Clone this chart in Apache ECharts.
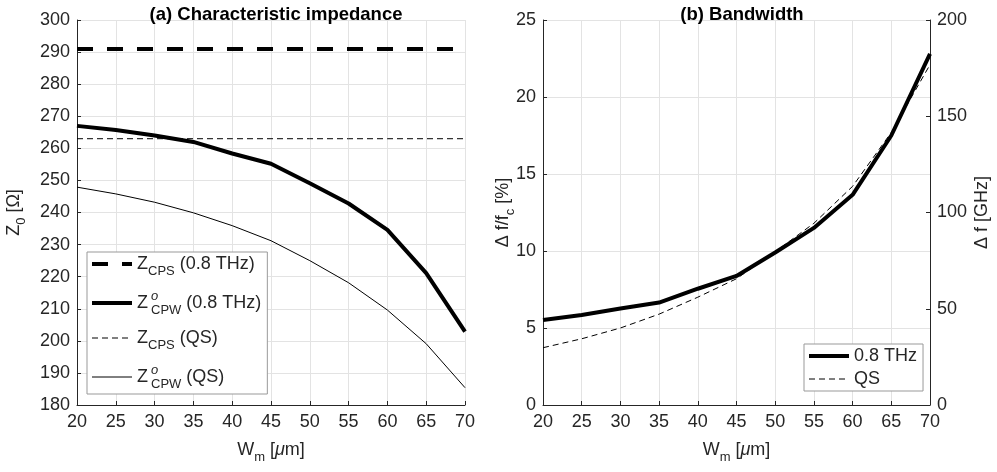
<!DOCTYPE html>
<html>
<head>
<meta charset="utf-8">
<script src="https://cdn.jsdelivr.net/npm/echarts@6/dist/echarts.min.js"></script>
<style>
  html, body { margin: 0; padding: 0; background: #fff; }
  #chart { width: 997px; height: 472px; }
</style>
</head>
<body>
<div id="chart"></div>
<script>
// W_m values (um)
const wm = [20, 25, 30, 35, 40, 45, 50, 55, 60, 65, 70];

// (a) characteristic impedance [ohm]
const zCps08 = [291, 291, 291, 291, 291, 291, 291, 291, 291, 291, 291];
const zCpw08 = [267, 265.7, 264, 262, 258.4, 255.2, 249.1, 242.8, 234.6, 221.1, 202.9];
const zCpsQs = [263, 263, 263, 263, 263, 263, 263, 263, 263, 263, 263];
const zCpwQs = [247.9, 245.8, 243.2, 239.9, 235.9, 231.2, 225, 218.1, 209.6, 199.1, 185.4];

// (b) bandwidth [%]
const bw08 = [5.52, 5.85, 6.27, 6.65, 7.55, 8.38, 9.9, 11.5, 13.65, 17.5, 22.8];
const bwQs = [3.72, 4.3, 5.0, 5.9, 7.0, 8.2, 9.95, 11.8, 14.2, 17.7, 22.1];

const xTicks = {min: 20, max: 70, interval: 5};
const leftTicks = {min: 180, max: 300, interval: 10};
const pctTicks = {min: 0, max: 25, interval: 5};
const ghzTicks = {min: 0, max: 200, interval: 50};

const pair = (ys) => ys.map((y, i) => [wm[i], y]);

const ink = '#262626';
const gridGray = '#e3e3e3';
const font = 'Liberation Sans, Arial, sans-serif';

// 富文本：下标 / 上标
function makeRich(lh) {
  return {
    n: {fontSize: 18, lineHeight: lh, fontFamily: font, color: ink, verticalAlign: 'middle'},
    s: {fontSize: 13, fontFamily: font, color: ink, verticalAlign: 'bottom', padding: [0, 0, 1, 0]},
    u: {fontSize: 13, fontFamily: font, color: ink, verticalAlign: 'top', width: 0, fontStyle: 'italic', padding: [2, 0, 0, 3]},
    i: {fontSize: 18, fontFamily: font, color: ink, fontStyle: 'italic', verticalAlign: 'middle'}
  };
}
const rich = makeRich(30);
const richSmall = makeRich(22);

const legendNames = {
  'cps08': '{n|Z}{s|CPS}{n| (0.8 THz)}',
  'cpw08': '{n|Z}{u|o}{s|CPW}{n| (0.8 THz)}',
  'cpsqs': '{n|Z}{s|CPS}{n| (QS)}',
  'cpwqs': '{n|Z}{u|o}{s|CPW}{n| (QS)}',
  'b08': '{n|0.8 THz}',
  'bqs': '{n|QS}'
};

function xAxis(gridIndex) {
  return {
    type: 'value', gridIndex: gridIndex,
    min: xTicks.min, max: xTicks.max, interval: xTicks.interval,
    name: '{n|W}{s|m}{n| [}{i|μ}{n|m]}',
    nameLocation: 'middle', nameGap: 30,
    nameTextStyle: {rich: rich},
    axisLine: {lineStyle: {color: ink, width: 1}},
    axisTick: {inside: true, length: 4, lineStyle: {color: ink}},
    axisLabel: {color: ink, fontSize: 18, fontFamily: font, margin: 8},
    splitLine: {show: true, lineStyle: {color: gridGray, width: 1}}
  };
}

function yAxis(gridIndex, ticks, name, nameGap, position, split) {
  return {
    type: 'value', gridIndex: gridIndex, position: position,
    min: ticks.min, max: ticks.max, interval: ticks.interval,
    name: name, nameLocation: 'middle', nameGap: nameGap,
    nameMoveOverlap: false,
    nameTextStyle: {rich: rich},
    axisLine: {show: true, lineStyle: {color: ink, width: 1}},
    axisTick: {show: true, inside: true, length: 4, lineStyle: {color: ink}},
    axisLabel: {color: ink, fontSize: 18, fontFamily: font, margin: 7},
    splitLine: {show: split, lineStyle: {color: gridGray, width: 1}}
  };
}

function line(id, xi, yi, ys, width, dash) {
  return {
    name: id, type: 'line', xAxisIndex: xi, yAxisIndex: yi,
    data: pair(ys), showSymbol: false, symbol: 'none', silent: true,
    itemStyle: {color: '#000'},
    lineStyle: {color: '#000', width: width, type: dash},
    z: 5
  };
}

function legend(names, left, top, gap, pad, r) {
  return {
    data: names,
    orient: 'vertical', left: left, top: top,
    itemWidth: 40, itemHeight: 14, itemGap: gap,
    padding: pad,
    backgroundColor: '#fff', borderColor: '#999', borderWidth: 1, borderRadius: 0,
    itemStyle: {opacity: 0},
    lineStyle: {width: 'inherit', type: 'inherit'},
    formatter: (name) => legendNames[name],
    textStyle: {rich: r}
  };
}

const chart = echarts.init(document.getElementById('chart'), null, {renderer: 'canvas'});

const option = {
  backgroundColor: '#fff',
  animation: false,
  title: [
    {text: '(a) Characteristic impedance', left: 271, top: 0, textAlign: 'center',
      textStyle: {fontSize: 18.5, fontWeight: 'bold', fontFamily: font, color: '#000'}},
    {text: '(b) Bandwidth', left: 737, top: 0, textAlign: 'center',
      textStyle: {fontSize: 18.5, fontWeight: 'bold', fontFamily: font, color: '#000'}}
  ],
  grid: [
    {left: 77, top: 20, width: 388, height: 385},
    {left: 543, top: 20, width: 387, height: 385}
  ],
  xAxis: [xAxis(0), xAxis(1)],
  yAxis: [
    yAxis(0, leftTicks, '{n|Z}{s|0}{n| [Ω]}', 48, 'left', true),
    yAxis(1, pctTicks, '{n|Δ f/f}{s|c}{n| [%]}', 25, 'left', true),
    yAxis(1, ghzTicks, '{n|Δ f [GHz]}', 37, 'right', false)
  ],
  legend: [
    legend(['cps08', 'cpw08', 'cpsqs', 'cpwqs'], 87, 252, 12, [3, 6, 3, 3], rich),
    legend(['b08', 'bqs'], 804, 344, 5, [3, 6, 3, 3], richSmall)
  ],
  series: [
    line('cps08', 0, 0, zCps08, 4, [16, 14]),
    line('cpw08', 0, 0, zCpw08, 4, 'solid'),
    line('cpsqs', 0, 0, zCpsQs, 1, [6, 4]),
    line('cpwqs', 0, 0, zCpwQs, 1, 'solid'),
    line('b08', 1, 1, bw08, 4, 'solid'),
    line('bqs', 1, 1, bwQs, 1, [6, 4])
  ]
};

chart.setOption(option);
</script>
</body>
</html>
